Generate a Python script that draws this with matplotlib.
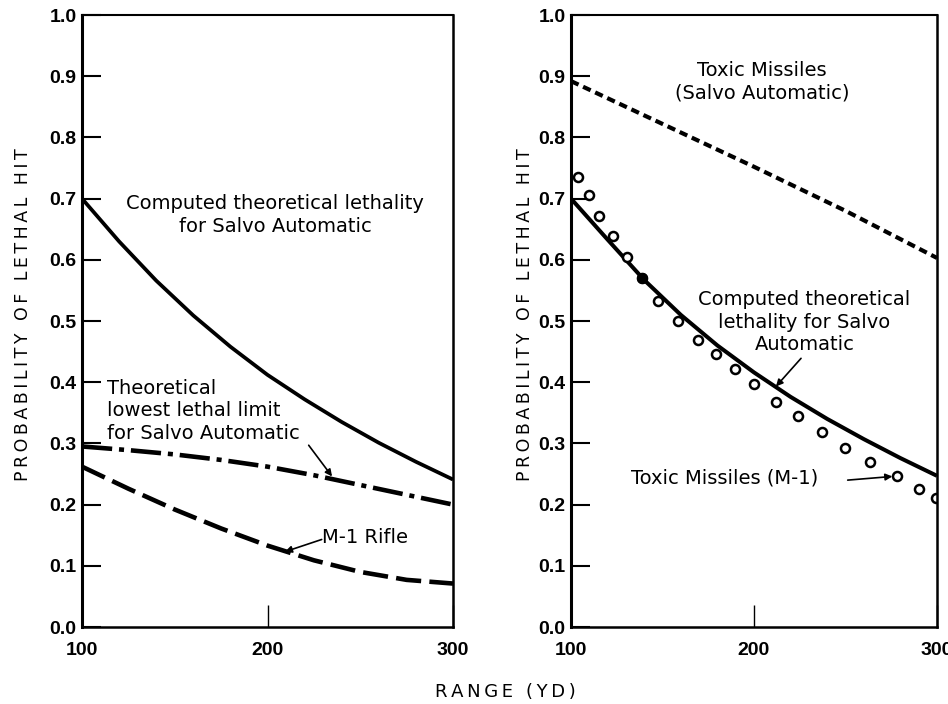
import matplotlib
matplotlib.use("Agg")
import matplotlib.pyplot as plt

# Range (yd) and probability of lethal hit, left panel
range_solid_l = [100, 120, 140, 160, 180, 200, 220, 240, 260, 280, 300]
computed_l = [0.700, 0.630, 0.566, 0.509, 0.458, 0.412, 0.372, 0.335, 0.301, 0.270, 0.241]

range_lowest = [100, 125, 150, 175, 200, 225, 250, 275, 300]
lowest_limit = [0.295, 0.289, 0.282, 0.273, 0.262, 0.248, 0.232, 0.216, 0.200]

range_rifle = [100, 125, 150, 175, 200, 225, 250, 275, 300]
m1_rifle = [0.262, 0.226, 0.192, 0.161, 0.133, 0.109, 0.090, 0.077, 0.071]

# Right panel
range_solid_r = [100, 120, 140, 160, 180, 200, 220, 240, 260, 280, 300]
computed_r = [0.700, 0.633, 0.567, 0.510, 0.460, 0.416, 0.376, 0.340, 0.307, 0.276, 0.247]

range_salvo = [100, 150, 200, 250, 300]
toxic_salvo = [0.892, 0.822, 0.752, 0.680, 0.603]

range_m1 = [103.6, 110.0, 115.5, 122.8, 130.6, 138.6, 147.4, 158.3, 169.2, 179.2,
            189.6, 200.2, 212.0, 223.9, 237.2, 249.7, 263.6, 278.1, 290.3, 299.5]
toxic_m1 = [0.736, 0.706, 0.672, 0.639, 0.605, 0.571, 0.532, 0.500, 0.469, 0.446,
            0.421, 0.397, 0.368, 0.344, 0.318, 0.292, 0.269, 0.246, 0.225, 0.210]
filled_idx = 5

y_ticks = [0.0, 0.1, 0.2, 0.3, 0.4, 0.5, 0.6, 0.7, 0.8, 0.9, 1.0]
x_ticks = [100, 200, 300]

W, H = 948, 704
TEXT_FONT = "DejaVu Sans"
TICK_FONT = "Liberation Sans"
NOTE_SIZE = 14
NOTE_LS = 1.25
THIN = "\u2009"


def spaced(s):
    return THIN.join(s)


def style_axes(ax):
    ax.set_xlim(100, 300)
    ax.set_ylim(0, 1.0)
    ax.set_yticks(y_ticks)
    ax.set_yticklabels([f"{v:.1f}" for v in y_ticks])
    ax.set_xticks(x_ticks)
    ax.set_xticklabels([str(v) for v in x_ticks])
    ax.tick_params(axis="y", direction="in", length=14, width=1.5, pad=4)
    ax.tick_params(axis="x", direction="in", length=16, width=1.0, pad=11)
    for lab in ax.get_xticklabels() + ax.get_yticklabels():
        lab.set_fontfamily(TICK_FONT)
        lab.set_fontweight("bold")
        lab.set_fontsize(14)
    ax.spines["left"].set_linewidth(2.2)
    ax.spines["bottom"].set_linewidth(1.8)
    ax.spines["top"].set_linewidth(1.5)
    ax.spines["right"].set_linewidth(1.8)


def note(ax, x, y, s, ha="center"):
    ax.text(x, y, s, ha=ha, va="center", fontsize=NOTE_SIZE, family=TEXT_FONT,
            linespacing=NOTE_LS)


def arrow(ax, tail, tip):
    ax.annotate("", xy=tip, xytext=tail,
                arrowprops=dict(arrowstyle="-|>", color="black", lw=1.2,
                                mutation_scale=10, shrinkA=0, shrinkB=0))


fig = plt.figure(figsize=(W / 100, H / 100), dpi=100)
fig.patch.set_facecolor("white")

ax1 = fig.add_axes([82 / W, 77 / H, 371 / W, 612 / H])
ax2 = fig.add_axes([571 / W, 77 / H, 366 / W, 612 / H])

# Left panel
ax1.plot(range_solid_l, computed_l, color="black", lw=2.7, solid_capstyle="butt")
ax1.plot(range_lowest, lowest_limit, color="black", lw=3.3,
         dashes=(6.6, 1.5, 1.1, 1.5))
ax1.plot(range_rifle, m1_rifle, color="black", lw=3.3, dashes=(5.5, 1.8))

note(ax1, 204, 0.673, "Computed theoretical lethality\nfor Salvo Automatic")
note(ax1, 113.5, 0.353, "Theoretical\nlowest lethal limit\nfor Salvo Automatic",
     ha="left")
arrow(ax1, (222.2, 0.297), (234.8, 0.246))
note(ax1, 229.5, 0.147, "M-1 Rifle", ha="left")
arrow(ax1, (229.2, 0.143), (209.4, 0.123))

# Right panel
ax2.plot(range_salvo, toxic_salvo, color="black", lw=3.0, dashes=(2.0, 1.2))
ax2.plot(range_solid_r, computed_r, color="black", lw=2.9, solid_capstyle="butt")
ax2.plot(range_m1, toxic_m1, linestyle="none", marker="o", markersize=6.5,
         markerfacecolor="white", markeredgecolor="black", markeredgewidth=1.8)
ax2.plot(range_m1[filled_idx], toxic_m1[filled_idx], linestyle="none", marker="o",
         markersize=7, color="black")

note(ax2, 204.5, 0.891, "Toxic Missiles\n(Salvo Automatic)")
note(ax2, 227.5, 0.498, "Computed theoretical\nlethality for Salvo\nAutomatic")
arrow(ax2, (225.7, 0.439), (212.0, 0.393))
note(ax2, 132.8, 0.243, "Toxic Missiles (M-1)", ha="left")
arrow(ax2, (251.2, 0.240), (275.6, 0.246))

for ax in (ax1, ax2):
    style_axes(ax)

# Axis titles
ylab = spaced("PROBABILITY OF LETHAL HIT")
fig.text(23 / W, 1 - 314.5 / H, ylab, rotation=90, ha="center", va="center",
         fontsize=12.5, family=TEXT_FONT)
fig.text(525 / W, 1 - 314.5 / H, ylab, rotation=90, ha="center", va="center",
         fontsize=12.5, family=TEXT_FONT)
fig.text(505 / W, 1 - 692 / H, spaced("RANGE (YD)"), ha="center", va="center",
         fontsize=13, family=TEXT_FONT)

fig.savefig("out.png", dpi=100, facecolor="white")
